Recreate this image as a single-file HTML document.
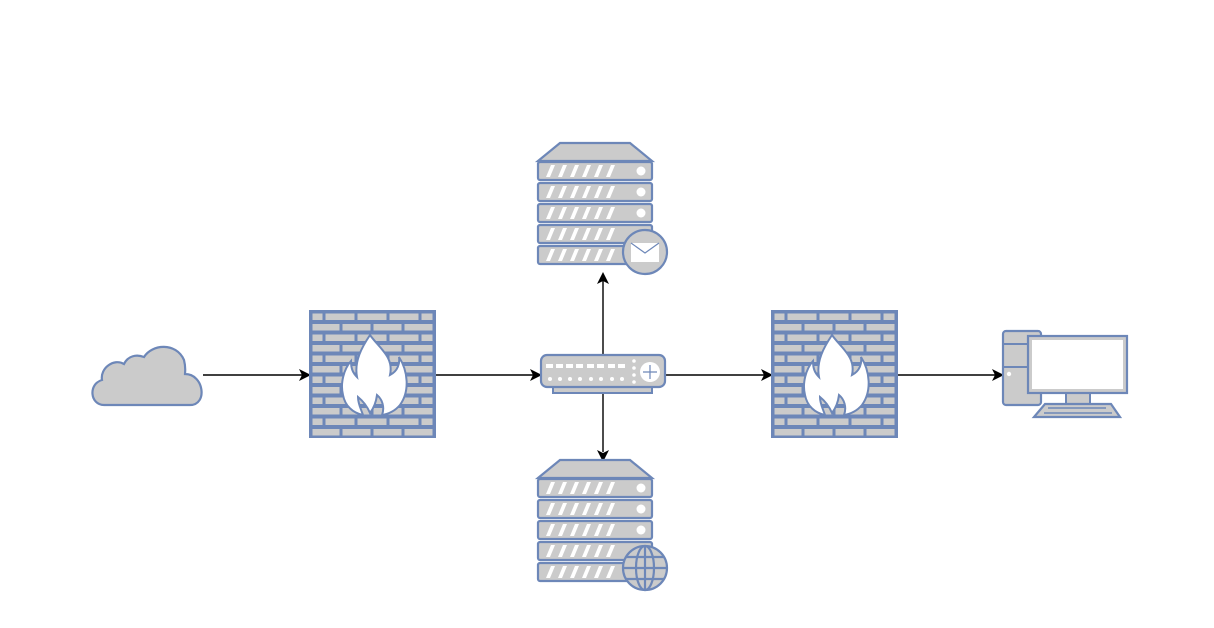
<!DOCTYPE html>
<html><head><meta charset="utf-8"><style>html,body{margin:0;padding:0;background:#fff}svg{display:block}</style></head>
<body>
<svg width="1214" height="628" viewBox="0 0 1214 628" xmlns="http://www.w3.org/2000/svg">
<defs>
<pattern id="brick" x="0" y="0" width="125" height="21" patternUnits="userSpaceOnUse">
<rect width="125" height="21" fill="#6d87b8"/>
<g fill="#cbcbcb">
<rect x="2.5" y="2.5" width="10" height="6.5"/>
<rect x="15.5" y="2.5" width="29" height="6.5"/>
<rect x="47.5" y="2.5" width="29" height="6.5"/>
<rect x="79.5" y="2.5" width="29" height="6.5"/>
<rect x="111.5" y="2.5" width="11" height="6.5"/>
<rect x="2.5" y="13" width="27" height="6.5"/>
<rect x="32.5" y="13" width="28" height="6.5"/>
<rect x="63.5" y="13" width="28" height="6.5"/>
<rect x="94.5" y="13" width="28" height="6.5"/>
</g>
</pattern>
<g id="fw">
<rect x="0" y="0" width="125" height="126" fill="url(#brick)" stroke="#6d87b8" stroke-width="2"/>
<path d="M60 24 C70 38 84 46 80 64 C88 60 90 52 89 46 C98 60 100 80 90 94 C85 100 78 103 72 104 C75 96 72 88 67 84 C66 92 63 98 60 102 C57 95 53 90 48 86 C48 93 51 98 53 104 C43 102 35 95 33 84 C30 72 34 58 41 50 C41 58 43 62 47 66 C44 50 52 36 60 24 Z" fill="#fff" stroke="#6d87b8" stroke-width="2"/>
</g>
<g id="srv">
<path d="M0 18 L22 0 L92 0 L114 18 Z" fill="#cbcbcb" stroke="#6d87b8" stroke-width="2.2"/>
<g id="slab"><rect x="0" y="19" width="114" height="18" rx="2" fill="#cbcbcb" stroke="#6d87b8" stroke-width="2.2"/>
<path d="M8 34 l5 -12 h4 l-5 12z M20 34 l5 -12 h4 l-5 12z M32 34 l5 -12 h4 l-5 12z M44 34 l5 -12 h4 l-5 12z M56 34 l5 -12 h4 l-5 12z M68 34 l5 -12 h4 l-5 12z" fill="#fff"/>
<circle cx="103" cy="28" r="4.5" fill="#fff"/></g>
<use href="#slab" y="21"/><use href="#slab" y="42"/><use href="#slab" y="63"/><use href="#slab" y="84"/>
</g>
</defs>

<g stroke="#000" stroke-width="1.4" fill="none">
<line x1="203" y1="375" x2="302" y2="375"/>
<line x1="435" y1="375" x2="533" y2="375"/>
<line x1="665" y1="375" x2="764" y2="375"/>
<line x1="897" y1="375" x2="995" y2="375"/>
<line x1="603" y1="355" x2="603" y2="281"/>
<line x1="603" y1="393" x2="603" y2="452"/>
</g>
<g fill="#000">
<path d="M311 375 l-12 -6 l3 6 l-3 6z"/>
<path d="M542 375 l-12 -6 l3 6 l-3 6z"/>
<path d="M773 375 l-12 -6 l3 6 l-3 6z"/>
<path d="M1004 375 l-12 -6 l3 6 l-3 6z"/>
<path d="M603 272 l-6 12 l6 -3 l6 3z"/>
<path d="M603 462 l-6 -12 l6 3 l6 -3z"/>
</g>

<path d="M104 405 C90 405 88 384 102 380 C100 368 114 358 124 364 C128 356 136 354 144 357 C152 344 176 342 184 360 C186 368 185 372 185 374 C204 374 208 405 190 405 Z" fill="#cbcbcb" stroke="#6d87b8" stroke-width="2.2"/>

<use href="#fw" x="310" y="311"/>
<use href="#fw" x="772" y="311"/>

<rect x="553" y="386" width="99" height="7" fill="#cbcbcb" stroke="#6d87b8" stroke-width="2"/>
<rect x="541" y="355" width="124" height="32" rx="6" fill="#cbcbcb" stroke="#6d87b8" stroke-width="2.2"/>
<g fill="#fff">
<rect x="546" y="364" width="7" height="4"/><rect x="556" y="364" width="7" height="4"/><rect x="566" y="364" width="7" height="4"/><rect x="576" y="364" width="7" height="4"/><rect x="587" y="364" width="7" height="4"/><rect x="597" y="364" width="7" height="4"/><rect x="608" y="364" width="7" height="4"/><rect x="618" y="364" width="7" height="4"/>
<circle cx="550" cy="379" r="2"/><circle cx="560" cy="379" r="2"/><circle cx="570" cy="379" r="2"/><circle cx="580" cy="379" r="2"/><circle cx="591" cy="379" r="2"/><circle cx="601" cy="379" r="2"/><circle cx="612" cy="379" r="2"/><circle cx="622" cy="379" r="2"/>
<circle cx="634" cy="361" r="1.8"/><circle cx="634" cy="368" r="1.8"/><circle cx="634" cy="375" r="1.8"/><circle cx="634" cy="382" r="1.8"/>
<circle cx="650" cy="372" r="10"/>
</g>
<path d="M650 365 v14 M643 372 h14" stroke="#6d87b8" stroke-width="1.2"/>

<use href="#srv" x="538" y="143"/>
<circle cx="645" cy="252" r="22" fill="#cbcbcb" stroke="#6d87b8" stroke-width="2.2"/>
<rect x="631" y="243" width="28" height="19" fill="#fff"/>
<path d="M631 243 l14 10 l14 -10" fill="none" stroke="#6d87b8" stroke-width="1.2"/>

<use href="#srv" x="538" y="460"/>
<g stroke="#6d87b8" stroke-width="2.2" fill="#cbcbcb">
<circle cx="645" cy="568" r="22"/>
<ellipse cx="645" cy="568" rx="9" ry="22" fill="none"/>
<line x1="645" y1="546" x2="645" y2="590"/>
<line x1="623" y1="568" x2="667" y2="568"/>
<line x1="626" y1="557" x2="664" y2="557"/>
<line x1="626" y1="579" x2="664" y2="579"/>
</g>

<rect x="1003" y="331" width="38" height="74" rx="3" fill="#cbcbcb" stroke="#6d87b8" stroke-width="2.2"/>
<line x1="1003" y1="344" x2="1030" y2="344" stroke="#6d87b8" stroke-width="2"/>
<line x1="1003" y1="367" x2="1030" y2="367" stroke="#6d87b8" stroke-width="2"/>
<circle cx="1009" cy="374" r="2.2" fill="#fff"/>
<rect x="1066" y="392" width="24" height="12" fill="#cbcbcb" stroke="#6d87b8" stroke-width="2"/>
<rect x="1028" y="336" width="99" height="57" fill="#cbcbcb" stroke="#6d87b8" stroke-width="2.2"/>
<rect x="1032" y="340" width="91" height="49" fill="#fff"/>
<path d="M1045 404 L1111 404 L1120 417 L1034 417 Z" fill="#cbcbcb" stroke="#6d87b8" stroke-width="2.2"/>
<path d="M1048 408 h58 M1044 413 h68" stroke="#6d87b8" stroke-width="1.5"/>
</svg>
</body></html>
